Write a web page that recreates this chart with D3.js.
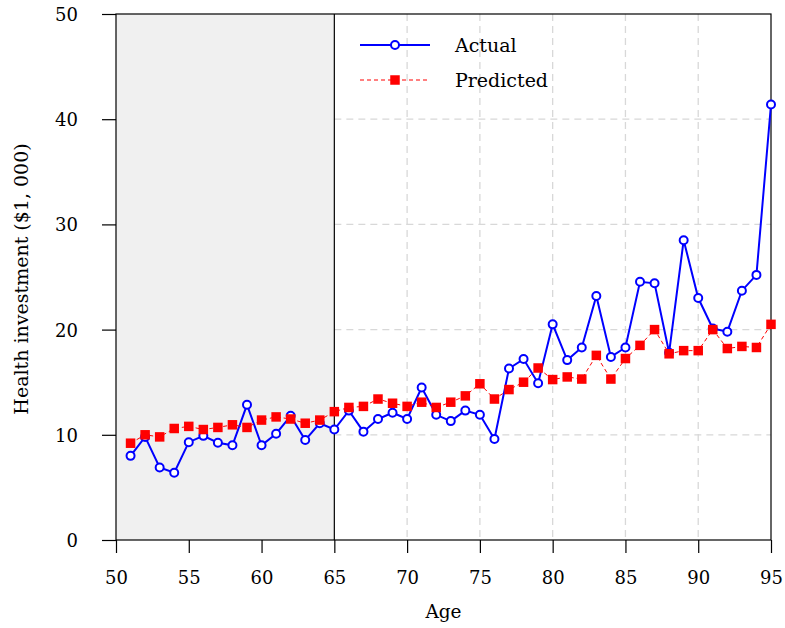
<!DOCTYPE html>
<html>
<head>
<meta charset="utf-8">
<script src="https://cdn.jsdelivr.net/npm/d3@7"></script>
<style>
  body { margin: 0; background: #fff; }
  text { font-family: "DejaVu Serif", serif; fill: #000; }
</style>
</head>
<body>
<svg id="chart" width="785" height="628"></svg>
<script>
const ages = d3.range(51, 96);
const actual = [8.0, 9.8, 6.9, 6.4, 9.3, 9.9, 9.25, 9.0, 12.85, 9.0,
  10.1, 11.8, 9.5, 11.1, 10.5, 12.3, 10.3, 11.5, 12.1, 11.5,
  14.5, 11.9, 11.3, 12.3, 11.9, 9.6, 16.3, 17.2, 14.9, 20.5,
  17.1, 18.3, 23.2, 17.4, 18.3, 24.55, 24.4, 17.8, 28.5, 23.0,
  20.1, 19.8, 23.7, 25.2, 41.4];
const predicted = [9.2, 10.0, 9.8, 10.6, 10.8, 10.5, 10.7, 10.95, 10.7, 11.4,
  11.7, 11.5, 11.1, 11.4, 12.2, 12.6, 12.7, 13.4, 13.0, 12.7,
  13.1, 12.6, 13.1, 13.7, 14.85, 13.4, 14.3, 15.0, 16.35, 15.25,
  15.5, 15.3, 17.55, 15.3, 17.25, 18.5, 20.0, 17.7, 18.0, 18.0,
  20.0, 18.2, 18.4, 18.3, 20.5];
const xTicks = [50, 55, 60, 65, 70, 75, 80, 85, 90, 95];
const yTicks = [0, 10, 20, 30, 40, 50];
const gridX = [70, 75, 80, 85, 90];
const gridY = [10, 20, 30, 40];
const shadeRange = [50, 65];

const svg = d3.select("#chart");
const L = 116, R = 771, T = 14, B = 540;
const x = d3.scaleLinear().domain([50, 95]).range([L, R]);
const y = d3.scaleLinear().domain([0, 50]).range([B, T]);

// shaded region
svg.append("rect")
  .attr("x", x(shadeRange[0])).attr("y", T)
  .attr("width", x(shadeRange[1]) - x(shadeRange[0])).attr("height", B - T)
  .attr("fill", "#f0f0f0");

// grid
const grid = svg.append("g").attr("stroke", "#d8d8d8").attr("stroke-width", 1.3)
  .attr("stroke-dasharray", "7,5").attr("fill", "none");
gridX.forEach(v => grid.append("line")
  .attr("x1", x(v)).attr("x2", x(v)).attr("y1", T).attr("y2", B));
gridY.forEach(v => grid.append("line")
  .attr("x1", x(65)).attr("x2", R).attr("y1", y(v)).attr("y2", y(v)));

// divider line at 65
svg.append("line").attr("x1", x(65)).attr("x2", x(65)).attr("y1", T).attr("y2", B)
  .attr("stroke", "#000").attr("stroke-width", 1.2);

// frame
svg.append("rect").attr("x", L).attr("y", T).attr("width", R - L).attr("height", B - T)
  .attr("fill", "none").attr("stroke", "#000").attr("stroke-width", 1.2);

// axes
const xAxis = d3.axisBottom(x).tickValues(xTicks).tickSize(13).tickPadding(18).tickFormat(d3.format("d"));
const yAxis = d3.axisLeft(y).tickValues(yTicks).tickSize(14).tickPadding(24).tickFormat(d3.format("d"));
const gx = svg.append("g").attr("transform", `translate(0,${B})`).call(xAxis);
const gy = svg.append("g").attr("transform", `translate(${L},0)`).call(yAxis);
[gx, gy].forEach(g => {
  g.select(".domain").remove();
  g.selectAll(".tick line").attr("stroke", "#000").attr("stroke-width", 1.2);
  g.selectAll(".tick text").attr("font-family", "DejaVu Serif").attr("font-size", 18).attr("fill", "#000");
});
gy.selectAll(".tick text").attr("dy", "0.36em");

// axis labels
svg.append("text").attr("x", (L + R) / 2).attr("y", 618).attr("text-anchor", "middle")
  .attr("font-size", 18.5).text("Age");
svg.append("text").attr("transform", `translate(28,${(T + B) / 2 + 2}) rotate(-90)`)
  .attr("text-anchor", "middle").attr("font-size", 19).text("Health investment ($1, 000)");

// actual series
const line = d3.line().x((d, i) => x(ages[i])).y(d => y(d));
svg.append("path").datum(actual).attr("d", line)
  .attr("fill", "none").attr("stroke", "#0000ff").attr("stroke-width", 2);
const cr = 4;
svg.append("g").selectAll("circle").data(actual).join("circle")
  .attr("cx", (d, i) => x(ages[i])).attr("cy", d => y(d)).attr("r", cr)
  .attr("fill", "#fff").attr("stroke", "#0000ff").attr("stroke-width", 2);

// predicted series
svg.append("path").datum(predicted).attr("d", line)
  .attr("fill", "none").attr("stroke", "#ff0000").attr("stroke-width", 1)
  .attr("stroke-dasharray", "4,3");
const sq = 9.5;
svg.append("g").selectAll("rect").data(predicted).join("rect")
  .attr("x", (d, i) => x(ages[i]) - sq / 2).attr("y", d => y(d) - sq / 2)
  .attr("width", sq).attr("height", sq).attr("fill", "#ff0000");

// legend
const lg = svg.append("g");
lg.append("line").attr("x1", 360).attr("x2", 430).attr("y1", 45).attr("y2", 45)
  .attr("stroke", "#0000ff").attr("stroke-width", 2);
lg.append("circle").attr("cx", 395).attr("cy", 45).attr("r", cr)
  .attr("fill", "#fff").attr("stroke", "#0000ff").attr("stroke-width", 2);
lg.append("text").attr("x", 455).attr("y", 52).attr("font-size", 19).text("Actual");
lg.append("line").attr("x1", 360).attr("x2", 430).attr("y1", 80).attr("y2", 80)
  .attr("stroke", "#ff0000").attr("stroke-width", 1).attr("stroke-dasharray", "4,3");
lg.append("rect").attr("x", 395 - sq / 2).attr("y", 80 - sq / 2).attr("width", sq).attr("height", sq)
  .attr("fill", "#ff0000");
lg.append("text").attr("x", 455).attr("y", 87).attr("font-size", 19).text("Predicted");
</script>
</body>
</html>
